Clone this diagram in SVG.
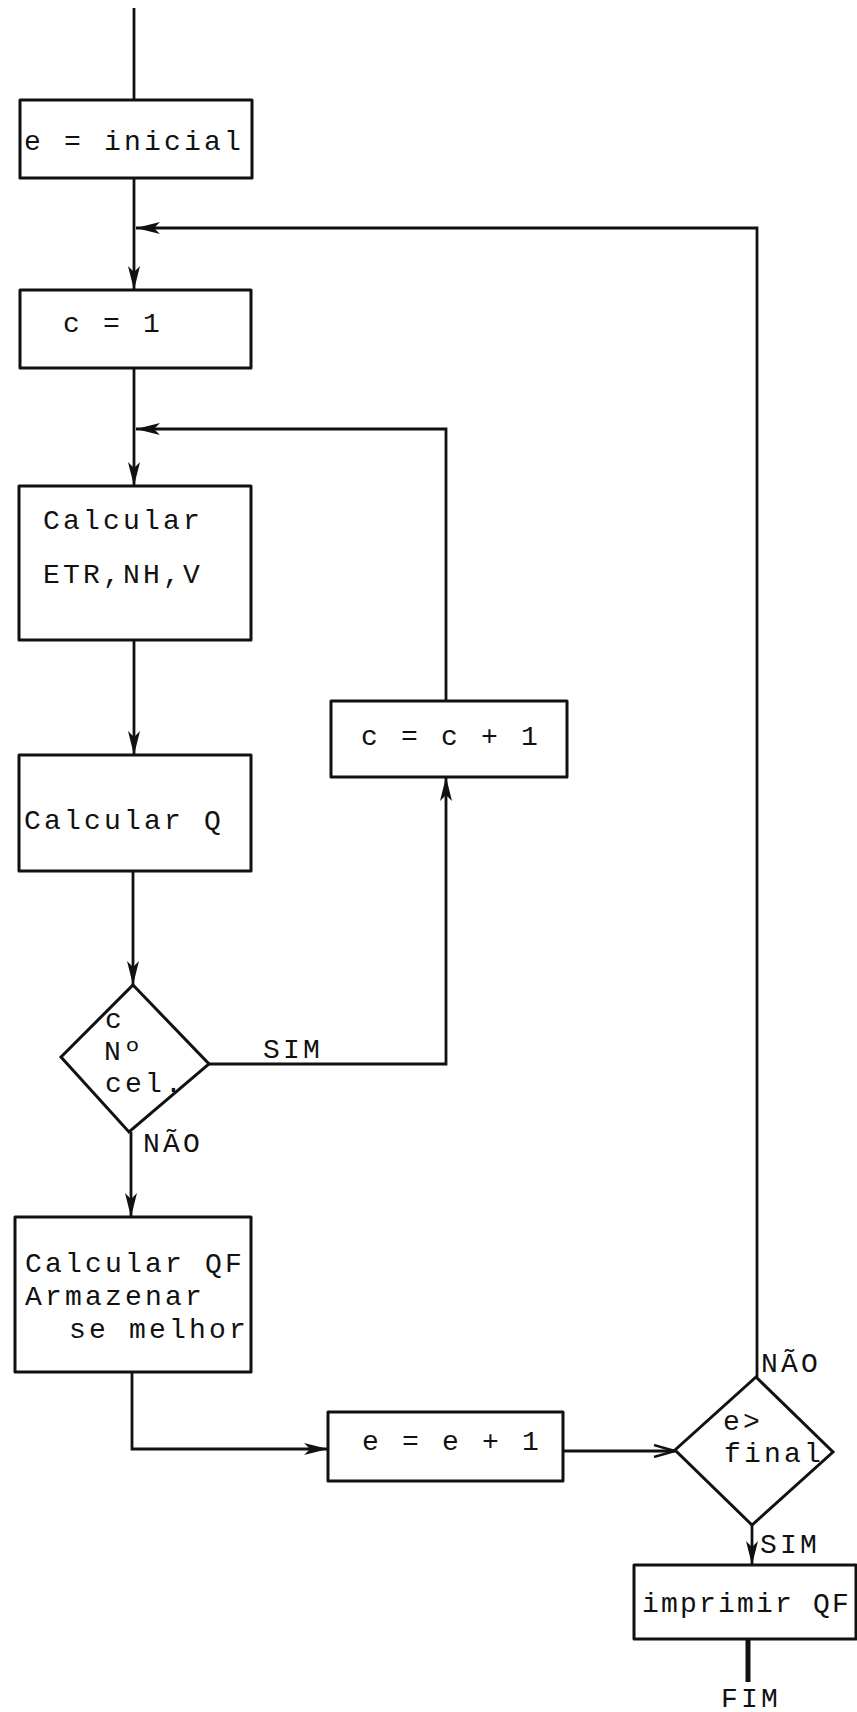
<svg xmlns="http://www.w3.org/2000/svg" width="857" height="1712" viewBox="0 0 857 1712">
<style>
.box{fill:none;stroke:#111;stroke-width:3;stroke-linejoin:round}
.dia{fill:none;stroke:#111;stroke-width:3;stroke-linejoin:miter}
.ln{fill:none;stroke:#111;stroke-width:2.8}
.t{font-family:"Liberation Mono","DejaVu Sans Mono",monospace;font-size:28px;letter-spacing:3.2px;fill:#111}
</style>
<defs>
<marker id="ah" viewBox="0 0 24 12" refX="24" refY="6" markerWidth="24" markerHeight="12" markerUnits="userSpaceOnUse" orient="auto">
<path d="M24,6 L0,0 L6,6 L0,12 Z" fill="#111"/>
</marker>
<marker id="av" viewBox="0 0 24 14" refX="23" refY="7" markerWidth="24" markerHeight="14" markerUnits="userSpaceOnUse" orient="auto">
<path d="M2,1 L23,7 L2,13" fill="none" stroke="#111" stroke-width="2.4"/>
</marker>
</defs>
<rect width="857" height="1712" fill="#fff"/>
<g id="connectors">
<path class="ln" d="M134,8 V100"/>
<path class="ln" d="M134,178 V290" marker-end="url(#ah)"/>
<path class="ln" d="M757,1377 V228 H136" marker-end="url(#ah)"/>
<path class="ln" d="M134,368 V486" marker-end="url(#ah)"/>
<path class="ln" d="M446,701 V429 H136" marker-end="url(#ah)"/>
<path class="ln" d="M134,640 V755" marker-end="url(#ah)"/>
<path class="ln" d="M133,871 V985" marker-end="url(#ah)"/>
<path class="ln" d="M209,1064 H446 V777" marker-end="url(#ah)"/>
<path class="ln" d="M131,1132 V1217" marker-end="url(#ah)"/>
<path class="ln" d="M132,1372 V1449 H328" marker-end="url(#ah)"/>
<path class="ln" d="M563,1451 H675" marker-end="url(#av)"/>
<path class="ln" d="M752,1525 V1565" marker-end="url(#ah)"/>
<path class="ln" d="M748,1639 V1682" style="stroke-width:5"/>
<text class="t" x="263" y="1058">SIM</text>
<text class="t" x="143" y="1152">NÃO</text>
<text class="t" x="761" y="1372">NÃO</text>
<text class="t" x="760" y="1553">SIM</text>
<text class="t" x="721" y="1707">FIM</text>
</g>
<g id="n-inicial">
<rect class="box" x="20" y="100" width="232" height="78"/>
<text class="t" x="24" y="150">e = inicial</text>
</g>
<g id="n-c1">
<rect class="box" x="20" y="290" width="231" height="78"/>
<text class="t" x="63" y="332">c = 1</text>
</g>
<g id="n-calc1">
<rect class="box" x="19" y="486" width="232" height="154"/>
<text class="t" x="43" y="529">Calcular</text>
<text class="t" x="43" y="583">ETR,NH,V</text>
</g>
<g id="n-calcQ">
<rect class="box" x="19" y="755" width="232" height="116"/>
<text class="t" x="24" y="829">Calcular Q</text>
</g>
<g id="n-cinc">
<rect class="box" x="331" y="701" width="236" height="76"/>
<text class="t" x="361" y="745">c = c + 1</text>
</g>
<g id="n-dec1">
<path class="dia" d="M133,985 L209,1064 L129,1132 L61,1057 Z"/>
<text class="t" x="105" y="1028">c</text>
<text class="t" x="104" y="1060">Nº</text>
<text class="t" x="105" y="1092">cel.</text>
</g>
<g id="n-calcQF">
<rect class="box" x="15" y="1217" width="236" height="155"/>
<text class="t" x="25" y="1272">Calcular QF</text>
<text class="t" x="25" y="1305">Armazenar</text>
<text class="t" x="69" y="1338">se melhor</text>
</g>
<g id="n-einc">
<rect class="box" x="328" y="1412" width="235" height="69"/>
<text class="t" x="362" y="1450">e = e + 1</text>
</g>
<g id="n-dec2">
<path class="dia" d="M756,1377 L833,1452 L752,1525 L675,1450 Z"/>
<text class="t" x="723" y="1430">e&gt;</text>
<text class="t" x="724" y="1462">final</text>
</g>
<g id="n-print">
<rect class="box" x="634" y="1565" width="222" height="74"/>
<text class="t" x="642" y="1612" style="letter-spacing:2.2px">imprimir QF</text>
</g>
</svg>
